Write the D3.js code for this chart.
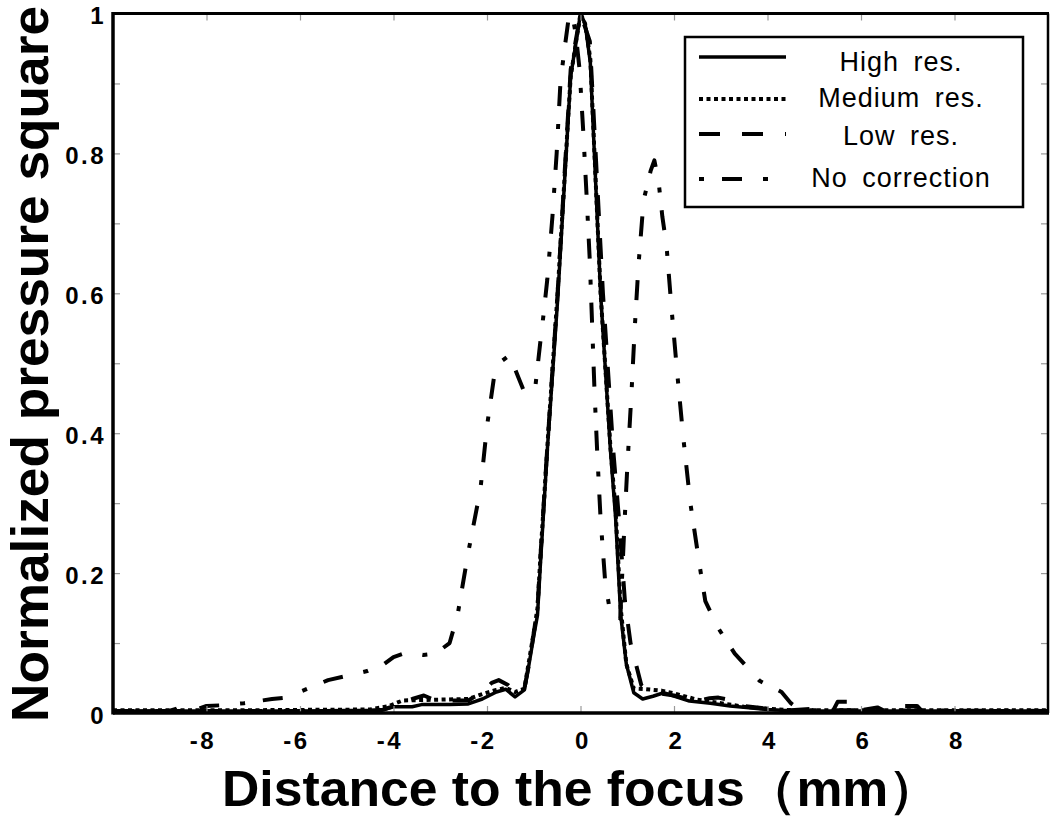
<!DOCTYPE html>
<html>
<head>
<meta charset="utf-8">
<script src="https://cdn.jsdelivr.net/npm/d3@7"></script>
<style>
  body { margin: 0; background: #fff; }
  text { font-family: 'Liberation Sans', Arial, sans-serif; }
</style>
</head>
<body>
<script>
// focus profile chart: normalized pressure square vs distance to the focus

// High res. (solid)
const xHigh = [-10, -8, -6, -4.5, -4.2, -4.0, -3.6, -3.4, -2.8, -2.4, -2.1, -1.8, -1.6, -1.4, -1.2, -1.1, -1.0, -0.92, -0.86, -0.71,
  -0.49, -0.21, 0, 0.1, 0.21, 0.43, 0.64, 0.75, 0.86, 0.98, 1.14, 1.33, 1.55, 1.78, 2.0, 2.33, 2.78, 3.2, 3.55, 4.0,
  4.3, 5, 6, 7, 8, 9, 10]
const yHigh = [0.003, 0.003, 0.003, 0.004, 0.005, 0.009, 0.009, 0.012, 0.012, 0.013, 0.02, 0.03, 0.034, 0.023, 0.033, 0.07, 0.11, 0.14, 0.21, 0.376,
  0.59, 0.91, 1.0, 0.985, 0.93, 0.6, 0.376, 0.28, 0.14, 0.07, 0.029, 0.02, 0.024, 0.029, 0.024, 0.017, 0.014, 0.01, 0.008, 0.005,
  0.004, 0.003, 0.003, 0.003, 0.003, 0.003, 0.003]

// Medium res. (dotted)
const xMed = [-10, -7, -4.5, -4.1, -3.8, -2.4, -2.1, -1.8, -1.6, -1.4, -1.2, -1.1, -1.0, -0.92, -0.86, -0.71, -0.49, -0.21, 0, 0.1,
  0.21, 0.43, 0.64, 0.75, 0.86, 0.98, 1.14, 1.4, 1.73, 2.0, 2.5, 3.0, 3.5, 4.0, 4.5, 6, 8, 10]
const yMed = [0.004, 0.004, 0.005, 0.01, 0.018, 0.02, 0.027, 0.033, 0.036, 0.03, 0.035, 0.075, 0.115, 0.15, 0.22, 0.38, 0.6, 0.91, 1.0, 0.985,
  0.935, 0.6, 0.38, 0.29, 0.15, 0.07, 0.035, 0.034, 0.032, 0.028, 0.019, 0.014, 0.009, 0.006, 0.004, 0.004, 0.004, 0.004]

// Low res. (dashed)
const xLow = [-10, -8.8, -8.6, -8.4, -4.3, -4.0, -3.6, -3.35, -3.1, -2.4, -2.1, -1.9, -1.75, -1.55, -1.4, -1.2, -1.1, -0.92, -0.86, -0.71,
  -0.49, -0.21, 0, 0.2, 0.48, 0.7, 0.82, 0.95, 1.07, 1.3, 1.5, 2.0, 2.5, 2.76, 2.95, 3.1, 3.5, 4.0, 4.5, 5.0,
  5.4, 5.5, 5.9, 6.0, 6.35, 6.5, 6.9, 7.2, 7.3, 10]
const yLow = [0.003, 0.003, 0.007, 0.003, 0.003, 0.01, 0.02, 0.025, 0.018, 0.018, 0.03, 0.043, 0.047, 0.04, 0.028, 0.035, 0.07, 0.15, 0.22, 0.38,
  0.6, 0.92, 1.0, 0.96, 0.6, 0.376, 0.28, 0.16, 0.1, 0.04, 0.03, 0.025, 0.017, 0.021, 0.022, 0.02, 0.01, 0.006, 0.004, 0.006,
  0.003, 0.016, 0.016, 0.004, 0.008, 0.003, 0.01, 0.01, 0.003, 0.003]

// No correction (dash-dot)
const xNone = [-10, -8.3, -8.0, -7.7, -7.2, -6.6, -6.3, -5.9, -5.4, -5.0, -4.56, -4.2, -4.0, -3.7, -3.36, -3.1, -2.8, -2.63, -2.4, -2.14,
  -2.0, -1.85, -1.71, -1.55, -1.45, -1.33, -1.18, -0.96, -0.86, -0.79, -0.71, -0.6, -0.51, -0.43, -0.36, -0.26, -0.18, -0.1, -0.02, 0.06,
  0.13, 0.2, 0.25, 0.3, 0.36, 0.43, 0.53, 0.62, 0.85, 0.94, 1.0, 1.09, 1.16, 1.24, 1.35, 1.5, 1.58, 1.67, 1.75, 1.84,
  1.95, 2.07, 2.2, 2.35, 2.55, 2.67, 2.93, 3.3, 3.83, 4.3, 4.5, 4.7, 10]
const yNone = [0.002, 0.003, 0.01, 0.011, 0.014, 0.02, 0.022, 0.033, 0.047, 0.053, 0.06, 0.07, 0.08, 0.087, 0.083, 0.085, 0.1, 0.14, 0.23, 0.32,
  0.41, 0.48, 0.502, 0.51, 0.5, 0.48, 0.455, 0.47, 0.53, 0.57, 0.62, 0.71, 0.8, 0.9, 0.94, 0.99, 1.0, 0.97, 0.92, 0.83,
  0.74, 0.645, 0.553, 0.46, 0.369, 0.277, 0.186, 0.15, 0.135, 0.27, 0.35, 0.457, 0.55, 0.64, 0.733, 0.775, 0.79, 0.76, 0.71, 0.668,
  0.576, 0.485, 0.393, 0.3, 0.21, 0.16, 0.123, 0.085, 0.046, 0.03, 0.014, 0.004, 0.003]

const seriesNames = ['High res.', 'Medium res.', 'Low res.', 'No correction']
const xTicks = [-8, -6, -4, -2, 0, 2, 4, 6, 8]
const yTicks = [0, 0.1, 0.2, 0.3, 0.4, 0.5, 0.6, 0.7, 0.8, 0.9, 1]

const width = 1050
const height = 816
const plotLeft = 113, plotRight = 1048, plotTop = 13.5, plotBottom = 713

const x = d3.scaleLinear().domain([-10, 10]).range([plotLeft, plotRight])
const y = d3.scaleLinear().domain([0, 1]).range([plotBottom, plotTop])

const svg = d3.select('body')
  .append('svg')
  .attr('width', width)
  .attr('height', height)

svg.append('defs')
  .append('clipPath')
  .attr('id', 'plotClip')
  .append('rect')
  .attr('x', plotLeft)
  .attr('y', plotTop)
  .attr('width', plotRight - plotLeft)
  .attr('height', plotBottom - plotTop)

// line styles for each series
const styles = [
  { dash: null, w: 3.5 },
  { dash: '4,3.5', w: 4 },
  { dash: '21,22', w: 4 },
  { dash: '5,18,20,21', w: 4 }
]

const series = [
  xHigh.map((d, i) => [d, yHigh[i]]),
  xMed.map((d, i) => [d, yMed[i]]),
  xLow.map((d, i) => [d, yLow[i]]),
  xNone.map((d, i) => [d, yNone[i]])
]

const line = d3.line()
  .x(d => x(d[0]))
  .y(d => y(d[1]))

const plot = svg.append('g').attr('clip-path', 'url(#plotClip)')

plot.selectAll('.curve')
  .data(series)
  .enter()
  .append('path')
  .attr('class', 'curve')
  .attr('d', line)
  .attr('fill', 'none')
  .attr('stroke', '#000')
  .attr('stroke-width', (d, i) => styles[i].w)
  .attr('stroke-dasharray', (d, i) => styles[i].dash)
  .attr('stroke-linejoin', 'round')

const fmt = d3.format('.1~f')

// bottom axis with labels, ticks pointing in
const xAxis = svg.append('g')
  .attr('transform', `translate(0,${plotBottom})`)
  .call(d3.axisBottom(x).tickValues(xTicks).tickSize(-7).tickPadding(19).tickFormat(d => String(d)))

xAxis.selectAll('text')
  .attr('dx', d => d < 0 ? -4 : 2)

// top axis ticks only
svg.append('g')
  .attr('transform', `translate(0,${plotTop})`)
  .call(d3.axisTop(x).tickValues(xTicks).tickSize(-7).tickFormat(''))

// left axis
const yAxis = svg.append('g')
  .attr('transform', `translate(${plotLeft},0)`)
  .call(d3.axisLeft(y).tickValues(yTicks).tickSize(-7).tickPadding(7)
    .tickFormat(d => Math.round(d * 10) % 2 === 0 ? fmt(d) : ''))

yAxis.selectAll('text')
  .attr('dy', '0.42em')

// right axis ticks only
svg.append('g')
  .attr('transform', `translate(${plotRight},0)`)
  .call(d3.axisRight(y).tickValues(yTicks).tickSize(-7).tickFormat(''))

svg.selectAll('.domain').remove()
svg.selectAll('.tick line')
  .attr('stroke', '#999')
  .attr('stroke-width', 1.2)
svg.selectAll('.tick text')
  .attr('fill', '#000')
  .style('font-size', '24px')
  .style('font-weight', 'bold')
  .style('letter-spacing', '2.5px')

// frame round the plot
svg.append('line').attr('x1', plotLeft).attr('x2', plotLeft).attr('y1', plotTop - 1.5).attr('y2', plotBottom + 1.5)
  .attr('stroke', '#000').attr('stroke-width', 3.5)
svg.append('line').attr('x1', plotLeft).attr('x2', plotRight + 1).attr('y1', plotBottom).attr('y2', plotBottom)
  .attr('stroke', '#000').attr('stroke-width', 3.5)
svg.append('line').attr('x1', plotLeft).attr('x2', plotRight + 1).attr('y1', plotTop).attr('y2', plotTop)
  .attr('stroke', '#000').attr('stroke-width', 3)
svg.append('line').attr('x1', plotRight).attr('x2', plotRight).attr('y1', plotTop).attr('y2', plotBottom)
  .attr('stroke', '#000').attr('stroke-width', 2.5)

// axis titles
svg.append('text')
  .attr('x', 222)
  .attr('y', 806)
  .attr('textLength', 718)
  .attr('lengthAdjust', 'spacingAndGlyphs')
  .style('font-size', '50px')
  .style('font-weight', 'bold')
  .attr('fill', '#000')
  .text('Distance to the focus（mm）')

svg.append('text')
  .attr('transform', 'translate(48,722) rotate(-90)')
  .attr('textLength', 716)
  .attr('lengthAdjust', 'spacingAndGlyphs')
  .style('font-size', '52px')
  .style('font-weight', 'bold')
  .attr('fill', '#000')
  .text('Normalized pressure square')

// legend
const legend = svg.append('g')

legend.append('rect')
  .attr('x', 685)
  .attr('y', 37)
  .attr('width', 338)
  .attr('height', 170)
  .attr('fill', '#fff')
  .attr('stroke', '#000')
  .attr('stroke-width', 2.5)

const legendLineY = [57, 99, 134, 179]
const legendTextY = [71, 107, 145, 187]

legend.selectAll('.key')
  .data(seriesNames)
  .enter()
  .append('line')
  .attr('class', 'key')
  .attr('x1', 699)
  .attr('x2', 786)
  .attr('y1', (d, i) => legendLineY[i])
  .attr('y2', (d, i) => legendLineY[i])
  .attr('stroke', '#000')
  .attr('stroke-width', (d, i) => styles[i].w)
  .attr('stroke-dasharray', (d, i) => styles[i].dash)

legend.selectAll('.label')
  .data(seriesNames)
  .enter()
  .append('text')
  .attr('class', 'label')
  .attr('x', 901)
  .attr('y', (d, i) => legendTextY[i])
  .attr('text-anchor', 'middle')
  .style('font-size', '27px')
  .style('letter-spacing', '1px')
  .style('word-spacing', '6px')
  .attr('fill', '#000')
  .text(d => d)
</script>
</body>
</html>
